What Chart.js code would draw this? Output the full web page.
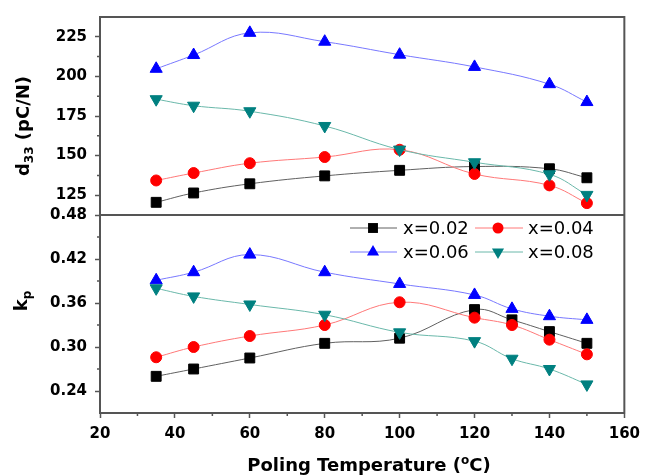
<!DOCTYPE html>
<html>
<head>
<meta charset="utf-8">
<script src="https://cdn.jsdelivr.net/npm/chart.js@4.4.0/dist/chart.umd.min.js"></script>
<style>
  body { margin: 0; background: #fff; }
  #wrap { position: relative; width: 647px; height: 475px; font-family: "DejaVu Sans", sans-serif; }
  #chart { position: absolute; left: 0; top: 0; }
  .title { position: absolute; font-weight: bold; font-size: 18px; color: #000; white-space: nowrap; line-height: 1; }
  .title sub { font-size: 12px; vertical-align: -4px; }
  .title sup { font-size: 12px; vertical-align: 7px; }
  #xTitle { left: 369px; top: 464px; transform: translate(-50%, -50%); }
  #dTitle { left: 24px; top: 126px; transform: translate(-50%, -50%) rotate(-90deg); }
  #kTitle { left: 22px; top: 301px; transform: translate(-50%, -50%) rotate(-90deg); }
</style>
</head>
<body>
<div id="wrap">
  <canvas id="chart" width="647" height="475"></canvas>
  <div class="title" id="dTitle">d<sub>33</sub> (pC/N)</div>
  <div class="title" id="kTitle">k<sub>p</sub></div>
  <div class="title" id="xTitle">Poling Temperature (<sup>o</sup>C)</div>
</div>
<script>
// series labels
const labels = ['x=0.02', 'x=0.04', 'x=0.06', 'x=0.08'];

// top panel: d33 (pC/N)
const tempD = [35, 45, 60, 80, 100, 120, 140, 150];
const d002 = [120.5, 126.4, 132.2, 137.2, 140.7, 143.1, 141.7, 136.0];
const d004 = [134.3, 139.0, 145.2, 149.1, 153.7, 138.4, 131.2, 120.0];
const d006 = [204.8, 213.5, 227.5, 221.9, 213.7, 206.0, 195.1, 183.8];
const d008 = [185.6, 181.5, 178.0, 168.7, 153.8, 145.8, 138.2, 125.2];

// bottom panel: kp
const tempK = [35, 45, 60, 80, 100, 120, 130, 140, 150];
const k002 = [0.260, 0.270, 0.285, 0.305, 0.312, 0.351, 0.337, 0.321, 0.305];
const k004 = [0.286, 0.300, 0.315, 0.330, 0.361, 0.340, 0.330, 0.310, 0.290];
const k006 = [0.391, 0.402, 0.426, 0.402, 0.386, 0.371, 0.352, 0.342, 0.337];
const k008 = [0.380, 0.369, 0.358, 0.344, 0.320, 0.308, 0.284, 0.270, 0.249];

// tick labels
const xTicks = [20, 40, 60, 80, 100, 120, 140, 160];
const dTicks = [125, 150, 175, 200, 225];
const kTicks = [0.24, 0.30, 0.36, 0.42, 0.48];

// styles
const markerColors = ['#000000', '#ff0000', '#0000ff', '#008080'];
const lineColors = ['#606060', '#ff7878', '#7878ff', '#6ab8aa'];
const pointStyles = ['rect', 'circle', 'triangle', 'triangle'];
const pointRot = [0, 0, 0, 180];
const pointRadius = [7, 5.5, 7, 7];

const axisColor = '#555';
const tickFont = { family: 'DejaVu Sans', size: 15, weight: 'bold' };

function makeSet(xs, ys, i, axis) {
  return {
    label: labels[i],
    data: xs.map((x, j) => ({ x: x, y: ys[j] })),
    yAxisID: axis,
    borderColor: lineColors[i],
    borderWidth: 1,
    backgroundColor: markerColors[i],
    pointBackgroundColor: markerColors[i],
    pointBorderColor: markerColors[i],
    pointBorderWidth: 1,
    pointStyle: pointStyles[i],
    rotation: pointRot[i],
    pointRadius: pointRadius[i],
    tension: 0.4,
    order: 4 - i,
    clip: false
  };
}

const dSeries = [d002, d004, d006, d008];
const kSeries = [k002, k004, k006, k008];
const datasets = [];
kSeries.forEach((s, i) => datasets.push(makeSet(tempK, s, i, 'yk')));
dSeries.forEach((s, i) => datasets.push(makeSet(tempD, s, i, 'yd')));

function drawMarker(ctx, i, x, y) {
  const r = pointRadius[i];
  ctx.fillStyle = markerColors[i];
  ctx.beginPath();
  if (pointStyles[i] === 'rect') {
    const h = r * Math.SQRT1_2;
    ctx.rect(x - h, y - h, 2 * h, 2 * h);
  } else if (pointStyles[i] === 'circle') {
    ctx.arc(x, y, r, 0, Math.PI * 2);
  } else {
    const sgn = pointRot[i] ? -1 : 1;
    ctx.moveTo(x, y - sgn * r);
    ctx.lineTo(x + r * 0.866, y + sgn * r * 0.5);
    ctx.lineTo(x - r * 0.866, y + sgn * r * 0.5);
    ctx.closePath();
  }
  ctx.fill();
}

// frame, divider, minor ticks and in-plot legend
const extras = {
  id: 'extras',
  afterDraw(chart) {
    const ctx = chart.ctx;
    const a = chart.chartArea;
    const xs = chart.scales.x, yk = chart.scales.yk, yd = chart.scales.yd;
    ctx.save();
    ctx.strokeStyle = axisColor;
    ctx.lineWidth = 2;
    ctx.strokeRect(a.left, a.top, a.right - a.left, a.bottom - a.top);
    ctx.beginPath();
    ctx.moveTo(a.left, yk.top);
    ctx.lineTo(a.right, yk.top);
    ctx.stroke();

    ctx.lineWidth = 1.5;
    ctx.beginPath();
    for (let v = 30; v < 160; v += 20) {
      const px = xs.getPixelForValue(v);
      ctx.moveTo(px, a.bottom);
      ctx.lineTo(px, a.bottom + 3);
    }
    [137.5, 162.5, 187.5, 212.5].forEach(v => {
      const py = yd.getPixelForValue(v);
      ctx.moveTo(a.left, py);
      ctx.lineTo(a.left - 3, py);
    });
    [0.27, 0.33, 0.39, 0.45].forEach(v => {
      const py = yk.getPixelForValue(v);
      ctx.moveTo(a.left, py);
      ctx.lineTo(a.left - 3, py);
    });
    ctx.stroke();

    // legend
    const cols = [{ l0: 350, l1: 397, m: 373, t: 403 }, { l0: 475, l1: 523, m: 498, t: 528 }];
    const rows = [228, 252];
    ctx.font = '18px "DejaVu Sans"';
    ctx.textBaseline = 'middle';
    for (let i = 0; i < 4; i++) {
      const c = cols[i % 2], y = rows[Math.floor(i / 2)];
      ctx.strokeStyle = lineColors[i];
      ctx.lineWidth = 1;
      ctx.beginPath();
      ctx.moveTo(c.l0, y);
      ctx.lineTo(c.l1, y);
      ctx.stroke();
      drawMarker(ctx, i, c.m, y);
      ctx.fillStyle = '#000';
      ctx.fillText(labels[i], c.t, y + 1);
    }
    ctx.restore();
  }
};

const yCommon = {
  type: 'linear',
  position: 'left',
  stack: 'panels',
  stackWeight: 1,
  grid: { display: true, drawOnChartArea: false, drawTicks: true, tickLength: 5, tickColor: axisColor, tickWidth: 1.5 },
  border: { display: true, color: axisColor, width: 2 },
  afterFit(s) { s.width = 100; }
};

new Chart(document.getElementById('chart').getContext('2d'), {
  type: 'line',
  data: { datasets: datasets },
  options: {
    responsive: false,
    animation: false,
    devicePixelRatio: 1,
    layout: { padding: { top: 11, right: 19, left: 0, bottom: 0 } },
    plugins: { legend: { display: false }, tooltip: { enabled: false } },
    scales: {
      x: {
        type: 'linear',
        min: 20, max: 160,
        afterBuildTicks(s) { s.ticks = xTicks.map(v => ({ value: v })); },
        ticks: { font: tickFont, color: '#000', padding: 7, maxRotation: 0 },
        grid: { display: true, drawOnChartArea: false, tickLength: 5, tickColor: axisColor, tickWidth: 1.5 },
        border: { display: true, color: axisColor, width: 2 },
        afterFit(s) { s.height = 62; }
      },
      yk: Object.assign({}, yCommon, {
        min: 0.21, max: 0.48,
        afterBuildTicks(s) { s.ticks = kTicks.map(v => ({ value: v })); },
        ticks: { font: tickFont, color: '#000', padding: 8, callback: v => v.toFixed(2) }
      }),
      yd: Object.assign({}, yCommon, {
        min: 112.5, max: 237.5,
        afterBuildTicks(s) { s.ticks = dTicks.map(v => ({ value: v })); },
        ticks: { font: tickFont, color: '#000', padding: 8, callback: v => String(v) }
      })
    }
  },
  plugins: [extras]
});
</script>
</body>
</html>
